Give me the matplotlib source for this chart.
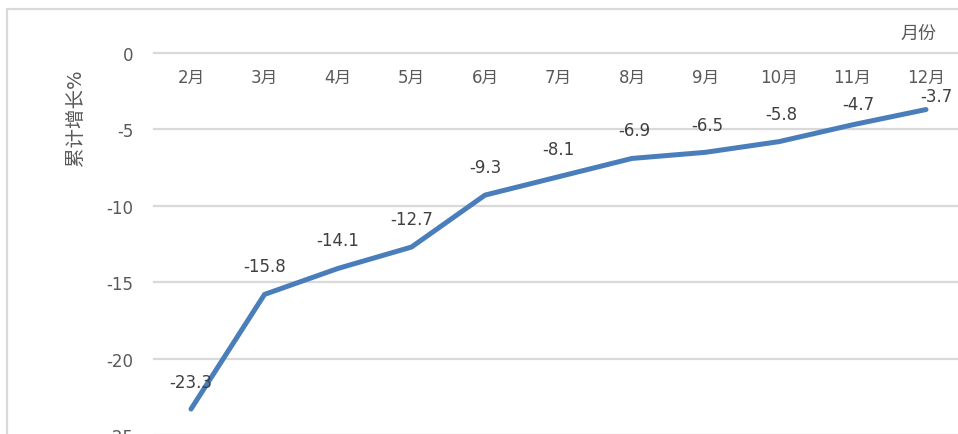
import matplotlib
matplotlib.use("Agg")
import matplotlib.pyplot as plt
from matplotlib.patches import Rectangle

months = ["2月", "3月", "4月", "5月", "6月", "7月", "8月", "9月", "10月", "11月", "12月"]
values = [-23.3, -15.8, -14.1, -12.7, -9.3, -8.1, -6.9, -6.5, -5.8, -4.7, -3.7]
yticks = [0, -5, -10, -15, -20, -25]
ylabel = "累计增长%"
xlabel = "月份"

# label offsets in pixels (dx, dy) for the data labels
label_offsets = [(0, 27), (0, 28), (0, 28), (0, 28), (0, 28), (0, 28),
                 (2, 28), (2, 27), (2, 28), (6, 21), (10, 14)]

plt.rcParams['font.family'] = ['DejaVu Sans', 'Noto Sans CJK SC']

W, H = 958, 435
fig = plt.figure(figsize=(W / 100, H / 100), dpi=100)
fig.patch.set_facecolor('white')

band = 73.5
left = 191 - band / 2
right_px = left + band * 11
top_px, bot_px = 54, 436
ax = fig.add_axes([left / W, 1 - bot_px / H, (right_px - left) / W, (bot_px - top_px) / H])
ax.set_facecolor('none')

x = list(range(len(months)))
ax.plot(x, values, color='#4a7ebb', lw=3.6, solid_capstyle='round', zorder=3)

ax.set_xlim(-0.5, len(months) - 0.5)
ax.set_ylim(-25, 0)
ax.set_yticks(yticks)
ax.set_yticklabels([str(v) for v in yticks])
ax.tick_params(axis='y', length=0, pad=15, labelsize=12, labelcolor='#595959')
ax.set_xticks([])
for s in ax.spines.values():
    s.set_visible(False)
for v in yticks:
    ax.axhline(v, color='#d9d9d9', lw=1.6, zorder=1, clip_on=False)

# category labels below zero line
for i, m in enumerate(months):
    ax.annotate(m, (i, 0), xytext=(0, -24), textcoords='offset pixels',
                ha='center', va='center', fontsize=12, color='#595959')

# data labels
for i, v in enumerate(values):
    dx, dy = label_offsets[i]
    ax.annotate(f"{v}", (i, v), xytext=(dx, dy), textcoords='offset pixels',
                ha='center', va='center', fontsize=12, color='#404040', zorder=4)

fig.text(918 / W, 1 - 34 / H, xlabel, ha='center', va='center', fontsize=13, color='#595959')
fig.text(76 / W, 1 - 118 / H, ylabel, ha='center', va='center', rotation=90,
         fontsize=14, color='#595959')

# outer chart border
fig.patches.append(Rectangle((7 / W, -0.05), 1.1, 1 - 10 / H + 0.05,
                             transform=fig.transFigure, fill=False,
                             edgecolor='#d9d9d9', lw=1.6))

fig.savefig('out.png', dpi=100)
